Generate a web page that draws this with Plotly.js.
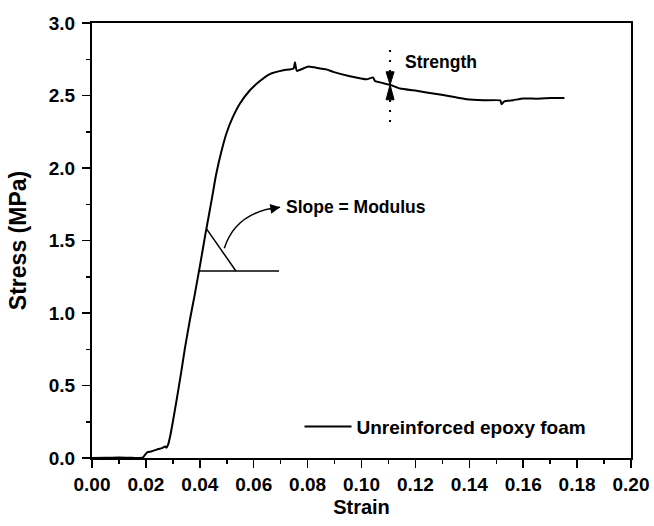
<!DOCTYPE html>
<html>
<head>
<meta charset="utf-8">
<script src="https://cdn.plot.ly/plotly-3.0.1.min.js"></script>
<style>
  html, body { margin: 0; padding: 0; background: #fff; }
  #chart { width: 654px; height: 526px; }
</style>
</head>
<body>
<div id="chart"></div>
<script>
// Compression test of the unreinforced epoxy foam: stress vs. strain
const strain = [
  0.0000, 0.0050, 0.0100, 0.0150, 0.0188, 0.0198, 0.0206, 0.0220, 0.0240, 0.0260,
  0.0272, 0.0276, 0.0282, 0.0290, 0.0300, 0.0314, 0.0330, 0.0345, 0.0364, 0.0380,
  0.0400, 0.0420, 0.0444, 0.0460, 0.0481, 0.0499, 0.0520, 0.0549, 0.0586, 0.0623,
  0.0660, 0.0710, 0.0748, 0.0753, 0.0760, 0.0803, 0.0846, 0.0870, 0.0895, 0.0957,
  0.1019, 0.1043, 0.1050, 0.1106, 0.1143, 0.1205, 0.1266, 0.1328, 0.1390, 0.1452,
  0.1515, 0.1520, 0.1530, 0.1563, 0.1600, 0.1650, 0.1700, 0.1753
];
const stress = [
  0.000, 0.002, 0.003, 0.001, 0.002, 0.025, 0.040, 0.045, 0.058, 0.068,
  0.080, 0.070, 0.090, 0.150, 0.250, 0.400, 0.580, 0.760, 0.960, 1.115,
  1.320, 1.535, 1.780, 1.950, 2.120, 2.240, 2.340, 2.445, 2.536, 2.600,
  2.648, 2.674, 2.686, 2.730, 2.670, 2.700, 2.686, 2.680, 2.663, 2.633,
  2.612, 2.625, 2.600, 2.574, 2.548, 2.532, 2.514, 2.495, 2.474, 2.467,
  2.466, 2.440, 2.460, 2.468, 2.480, 2.478, 2.482, 2.483
];

// Modulus construction: base line, angle leg, curved pointer
const modBaseX = [0.0397, 0.0694];
const modBaseY = [1.29, 1.29];
const modLegX = [0.0425, 0.0534];
const modLegY = [1.58, 1.29];
const modArrowStart = [0.0491, 1.446];
const modArrowCtrl = [0.0534, 1.70];
const modArrowEnd = [0.0698, 1.729];

// Strength marker
const strengthX = 0.1106;
const strengthY = 2.574;
const strengthSpan = [2.318, 2.86];

const tickX = [0, 0.02, 0.04, 0.06, 0.08, 0.10, 0.12, 0.14, 0.16, 0.18, 0.20];
const tickXText = ['0.00','0.02','0.04','0.06','0.08','0.10','0.12','0.14','0.16','0.18','0.20'];
const tickY = [0, 0.5, 1.0, 1.5, 2.0, 2.5, 3.0];
const tickYText = ['0.0','0.5','1.0','1.5','2.0','2.5','3.0'];

const FONT = 'Liberation Sans, Arial, Helvetica, sans-serif';

const traces = [
  {
    x: strain, y: stress, type: 'scatter', mode: 'lines',
    name: 'Unreinforced epoxy foam',
    line: { color: '#000', width: 2, shape: 'spline', smoothing: 0.4 },
    showlegend: true
  },
  {
    x: modBaseX, y: modBaseY, type: 'scatter', mode: 'lines',
    line: { color: '#000', width: 1.5 }, showlegend: false, hoverinfo: 'skip'
  },
  {
    x: modLegX, y: modLegY, type: 'scatter', mode: 'lines',
    line: { color: '#000', width: 1.5 }, showlegend: false, hoverinfo: 'skip'
  }
];

const shapes = [
  {
    type: 'path', xref: 'x', yref: 'y',
    path: `M ${modArrowStart[0]},${modArrowStart[1]} Q ${modArrowCtrl[0]},${modArrowCtrl[1]} ${modArrowEnd[0]},${modArrowEnd[1]}`,
    line: { color: '#000', width: 1.5 }
  },
  {
    type: 'line', xref: 'x', yref: 'y',
    x0: strengthX, x1: strengthX, y0: strengthSpan[0], y1: strengthSpan[1],
    line: { color: '#000', width: 2, dash: '2px,8px' }
  },
  // narrow arrowheads meeting at the strength point
  {
    type: 'path', xref: 'x', yref: 'y',
    xsizemode: 'pixel', ysizemode: 'pixel',
    xanchor: strengthX, yanchor: strengthY,
    path: 'M -4,13 L 4,13 L 0,0 Z',
    fillcolor: '#000', line: { color: '#000', width: 1 }
  },
  {
    type: 'path', xref: 'x', yref: 'y',
    xsizemode: 'pixel', ysizemode: 'pixel',
    xanchor: strengthX, yanchor: strengthY,
    path: 'M -4,-15 L 4,-15 L 0,0 Z',
    fillcolor: '#000', line: { color: '#000', width: 1 }
  }
];

const annotations = [
  {
    x: modArrowEnd[0], y: modArrowEnd[1], xref: 'x', yref: 'y',
    text: '', showarrow: true, axref: 'pixel', ayref: 'pixel',
    ax: -12, ay: 2, arrowhead: 2, arrowsize: 1.3, arrowwidth: 1.5, arrowcolor: '#000'
  },
  {
    x: modArrowEnd[0], y: modArrowEnd[1], xref: 'x', yref: 'y',
    text: 'Slope = Modulus', showarrow: false,
    xanchor: 'left', yanchor: 'middle', xshift: 4,
    font: { family: FONT, size: 17.5, color: '#000', weight: 'bold' }
  },
  {
    x: strengthX, y: 2.73, xref: 'x', yref: 'y',
    text: 'Strength', showarrow: false,
    xanchor: 'left', yanchor: 'middle', xshift: 13,
    font: { family: FONT, size: 17.5, color: '#000', weight: 'bold' }
  }
];

const axisCommon = {
  showline: true, linecolor: '#000', linewidth: 2, mirror: true,
  showgrid: false, zeroline: false,
  ticks: 'outside', ticklen: 8, tickwidth: 1.5, tickcolor: '#000',
  tickfont: { family: FONT, size: 19, color: '#000', weight: 'bold' },
  tickmode: 'array'
};

const layout = {
  width: 654, height: 526,
  margin: { l: 92, r: 23, t: 23, b: 68 },
  paper_bgcolor: '#fff', plot_bgcolor: '#fff',
  font: { family: FONT, color: '#000' },
  xaxis: Object.assign({}, axisCommon, {
    range: [0, 0.20], tickvals: tickX, ticktext: tickXText,
    minor: { dtick: 0.01, ticklen: 4, tickwidth: 1.5, tickcolor: '#000', ticks: 'outside' },
    title: { text: 'Strain', standoff: 6, font: { family: FONT, size: 20, color: '#000', weight: 'bold' } }
  }),
  yaxis: Object.assign({}, axisCommon, {
    range: [0, 3.0], tickvals: tickY, ticktext: tickYText,
    ticklabelstandoff: 3,
    minor: { dtick: 0.25, ticklen: 4, tickwidth: 1.5, tickcolor: '#000', ticks: 'outside' },
    title: { text: 'Stress (MPa)', standoff: 16, font: { family: FONT, size: 23, color: '#000', weight: 'bold' } }
  }),
  showlegend: true,
  legend: {
    x: 0.385, y: 0.072, xanchor: 'left', yanchor: 'middle',
    bgcolor: 'rgba(0,0,0,0)', borderwidth: 0,
    font: { family: FONT, size: 19, color: '#000', weight: 'bold' },
    itemwidth: 47
  },
  shapes: shapes,
  annotations: annotations
};

Plotly.newPlot('chart', traces, layout, { displayModeBar: false, staticPlot: true });
</script>
</body>
</html>
